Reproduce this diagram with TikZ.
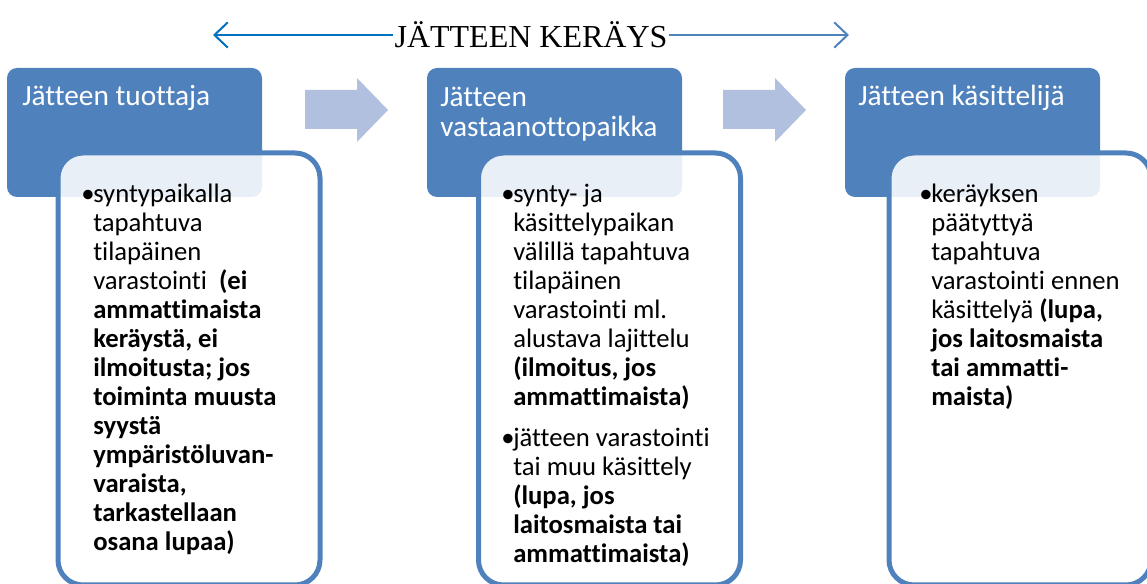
\documentclass[tikz,border=0pt]{standalone}
\usepackage{fontspec}
\setmainfont{Carlito}[Ligatures={NoCommon}]
\newfontfamily\titlefont{Liberation Serif}
\usetikzlibrary{arrows.meta}
\pgfdeclarelayer{edgelayer}
\pgfdeclarelayer{nodelayer}
\pgfsetlayers{edgelayer,main,nodelayer}
\definecolor{boxblue}{RGB}{79,129,189}
\definecolor{chevblue}{RGB}{176,192,222}
\definecolor{linkblue}{RGB}{0,112,192}
\tikzstyle{none} = [inner sep=0pt]
\tikzstyle{title} = [inner sep=1pt, font=\titlefont\fontsize{24}{26}\selectfont]
\tikzstyle{head box} = [fill=boxblue, rounded corners=7.5pt, minimum width=191.25pt, minimum height=96.75pt]
\tikzstyle{body box} = [draw=boxblue, line width=3.75pt, fill=white, fill opacity=0.88, rounded corners=18.75pt, minimum width=196.5pt, minimum height=324pt]
\tikzstyle{head text} = [inner sep=0pt, anchor=base west, text=white, font=\fontsize{22}{22.5}\selectfont]
\tikzstyle{body text} = [inner sep=0pt, anchor=base west, font=\fontsize{20}{21.75}\selectfont]
\tikzstyle{span edge} = [-{Straight Barb[length=10pt,width=19pt]}, line width=1.5pt]
\tikzstyle{chevron} = [fill=chevblue]

\begin{document}
\begin{tikzpicture}[x=0.75pt, y=-0.75pt]
	\useasboundingbox (0, 0) rectangle (1147, 584);
	\begin{pgfonlayer}{nodelayer}
		\node [style=title] (0) at (531, 35) {JÄTTEEN KERÄYS};
		\coordinate (1) at (213, 35);
		\coordinate (2) at (849, 35);
		\node [style=head text] (3) at (22, 106) {Jätteen tuottaja};
		\node [style=head text] (4) at (440, 107) {\begin{tabular}[t]{@{}l@{}}Jätteen\\[-0.2pt]vastaanottopaikka\end{tabular}};
		\node [style=head text] (5) at (858, 106) {Jätteen käsittelijä};
		\node [style=body text] (6) at (81, 203) {\begin{tabular}[t]{@{}p{9pt}@{}l@{}}
			\textbullet & syntypaikalla\\
			& tapahtuva\\
			& tilapäinen\\
			& varastointi \ \textbf{(ei}\\
			& \textbf{ammattimaista}\\
			& \textbf{keräystä, ei}\\
			& \textbf{ilmoitusta; jos}\\
			& \textbf{toiminta muusta}\\
			& \textbf{syystä}\\
			& \textbf{ympäristöluvan-}\\
			& \textbf{varaista,}\\
			& \textbf{tarkastellaan}\\
			& \textbf{osana lupaa)}
		\end{tabular}};
		\node [style=body text] (7) at (501, 203) {\begin{tabular}[t]{@{}p{9pt}@{}l@{}}
			\textbullet & synty- ja\\
			& käsittelypaikan\\
			& välillä tapahtuva\\
			& tilapäinen\\
			& varastointi ml.\\
			& alustava lajittelu\\
			& \textbf{(ilmoitus, jos}\\
			& \textbf{ammattimaista)}\\[9pt]
			\textbullet & jätteen varastointi\\
			& tai muu käsittely\\
			& \textbf{(lupa, jos}\\
			& \textbf{laitosmaista tai}\\
			& \textbf{ammattimaista)}
		\end{tabular}};
		\node [style=body text] (8) at (919, 203) {\begin{tabular}[t]{@{}p{9pt}@{}l@{}}
			\textbullet & keräyksen\\
			& päätyttyä\\
			& tapahtuva\\
			& varastointi ennen\\
			& käsittelyä \textbf{(lupa,}\\
			& \textbf{jos laitosmaista}\\
			& \textbf{tai ammatti-}\\
			& \textbf{maista)}
		\end{tabular}};
	\end{pgfonlayer}
	\begin{pgfonlayer}{edgelayer}
		\node [style=head box] (10) at (134.5, 132.5) {};
		\node [style=head box] (11) at (554.5, 132.5) {};
		\node [style=head box] (12) at (972.5, 132.5) {};
		\node [style=body box] (13) at (189, 369) {};
		\node [style=body box] (14) at (609.5, 369) {};
		\node [style=body box] (15) at (1020, 369) {};
		\fill [style=chevron] (305, 90) -- (357, 90) -- (357, 78) -- (388, 110) -- (357, 142) -- (357, 129) -- (305, 129) -- cycle;
		\fill [style=chevron] (723, 90) -- (775, 90) -- (775, 78) -- (806, 110) -- (775, 142) -- (775, 129) -- (723, 129) -- cycle;
		\draw [style=span edge, linkblue] (0.west) to (1);
		\draw [style=span edge, boxblue] (0.east) to (2);
	\end{pgfonlayer}
\end{tikzpicture}
\end{document}
